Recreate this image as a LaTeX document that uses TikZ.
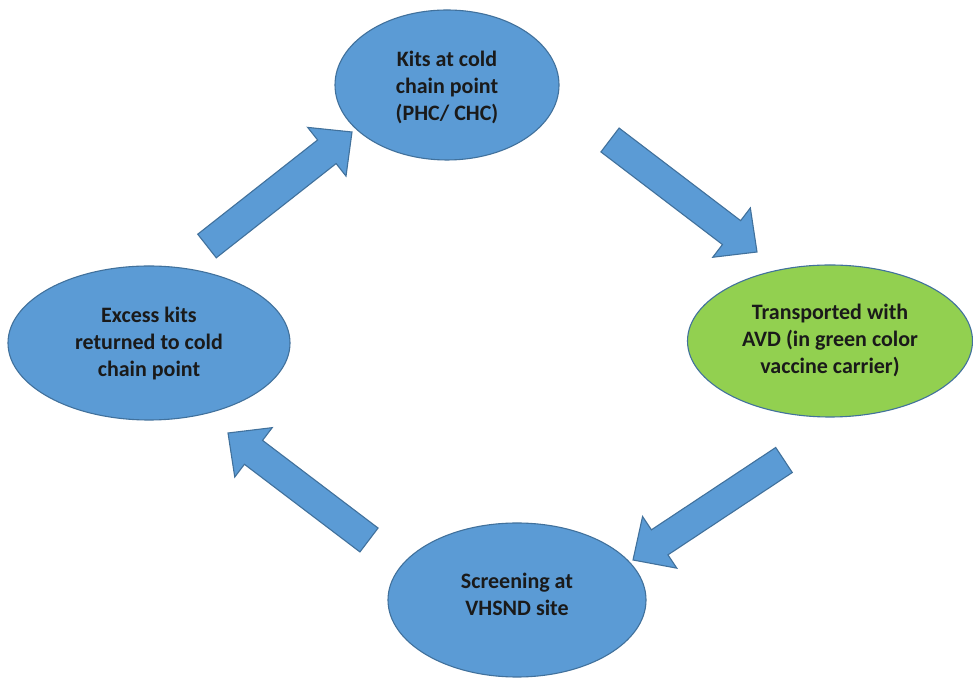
\documentclass[tikz,border=0pt]{standalone}
\usepackage{fontspec}
\setmainfont{Carlito}
\usetikzlibrary{shapes.geometric,calc}
\definecolor{fillblue}{HTML}{5B9BD5}
\definecolor{edgeblue}{HTML}{41719C}
\definecolor{fillgreen}{HTML}{92D050}
\definecolor{txtdark}{HTML}{1A1A1A}
\tikzset{
  blob/.style={ellipse, draw=edgeblue, line width=1.1pt, fill=fillblue, inner sep=0pt},
  greenblob/.style={blob, fill=fillgreen},
  lbl/.style={align=center, text=txtdark, font=\bfseries\fontsize{22}{27}\selectfont, inner sep=0pt},
  blockarrowstyle/.style={fill=fillblue, draw=edgeblue, line width=1.1pt, line join=miter}
}
\newcommand\blockarrow[2]{%
  \coordinate (#1-h) at ($(#2)!32pt!(#1)$);
  \filldraw[blockarrowstyle]
    ($(#1)!15pt!90:(#2)$) -- ($(#1-h)!15pt!90:(#2)$) -- ($(#1-h)!31pt!90:(#2)$)
    -- (#2)
    -- ($(#1-h)!31pt!-90:(#2)$) -- ($(#1-h)!15pt!-90:(#2)$) -- ($(#1)!15pt!-90:(#2)$) -- cycle;
}
\begin{document}
\begin{tikzpicture}[x=1pt,y=1pt]
\useasboundingbox[fill=white] (0,0) rectangle (973,679);
% ellipses
\node[blob, minimum width=224pt, minimum height=150pt] (top) at (447,594) {};
\node[greenblob, minimum width=285pt, minimum height=152pt] (right) at (830,338) {};
\node[blob, minimum width=258pt, minimum height=154pt] (bottom) at (517,79) {};
\node[blob, minimum width=282pt, minimum height=154pt] (left) at (149,336) {};
% labels
\node[lbl] (toptext) at (447,592) {Kits at cold\\chain point\\(PHC/ CHC)};
\node[lbl] (righttext) at (830,339) {Transported with\\AVD (in green color\\vaccine carrier)};
\node[lbl] (bottomtext) at (517,85) {Screening at\\VHSND site};
\node[lbl] (lefttext) at (149,335) {Excess kits\\returned to cold\\chain point};
% arrow ends
\coordinate (a1t) at (207,433); \coordinate (a1p) at (352,547);
\coordinate (a2t) at (610,539); \coordinate (a2p) at (757,427);
\coordinate (a3t) at (784,219); \coordinate (a3p) at (633,119);
\coordinate (a4t) at (369,139); \coordinate (a4p) at (228,246);
\blockarrow{a1t}{a1p}
\blockarrow{a2t}{a2p}
\blockarrow{a3t}{a3p}
\blockarrow{a4t}{a4p}
\end{tikzpicture}
\end{document}
